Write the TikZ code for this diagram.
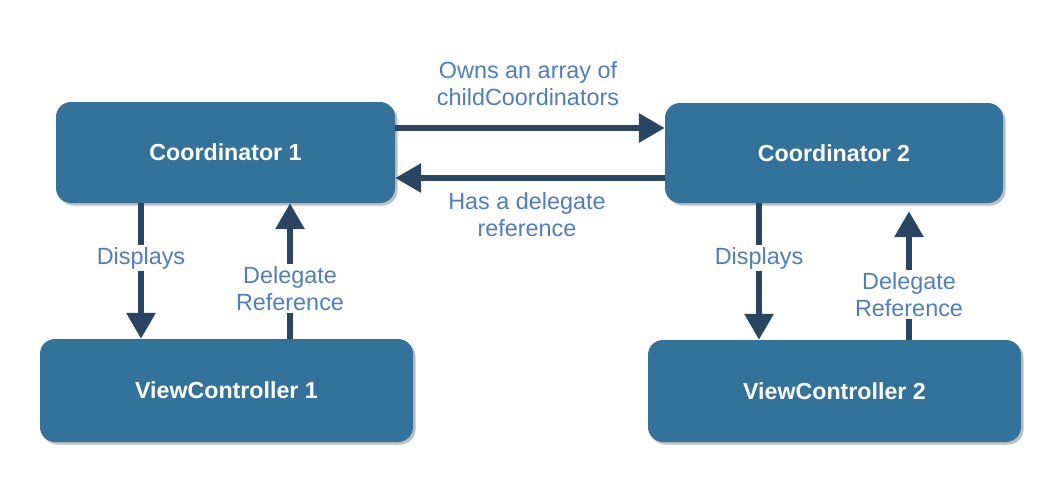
\documentclass[tikz,border=0pt]{standalone}
\usepackage{fontspec}
\setmainfont{Liberation Sans}
\usetikzlibrary{arrows.meta,shadows}
\definecolor{boxblue}{HTML}{32729B}
\definecolor{arrnavy}{HTML}{2A4561}
\definecolor{lblblue}{HTML}{4F7DC2}
\tikzset{
  box/.style={fill=boxblue, rounded corners=15pt, inner sep=0pt, text=white,
    font=\fontsize{23.2}{27}\selectfont\bfseries,
    drop shadow={shadow xshift=2.5pt, shadow yshift=-2.5pt, fill=black, opacity=0.25}},
  arr/.style={draw=arrnavy, line width=6pt, -{Triangle[width=28pt,length=26pt]}},
  lbl/.style={fill=white, text=lblblue, inner sep=2pt, align=center,
    font=\fontsize{23.4}{27}\selectfont}
}
\begin{document}
\begin{tikzpicture}[x=1pt,y=-1pt]
\useasboundingbox[fill=white] (0,0) rectangle (1064,482);
\node[box, minimum width=339pt, minimum height=101pt] (c1) at (225.5,152.5) {Coordinator 1};
\node[box, minimum width=338pt, minimum height=100pt] (c2) at (834,153) {Coordinator 2};
\node[box, minimum width=373pt, minimum height=103pt] (v1) at (226.5,390.5) {ViewController 1};
\node[box, minimum width=373pt, minimum height=102pt] (v2) at (834.5,391) {ViewController 2};
% horizontal arrows
\draw[arr] (c1.east |- 0,128) -- (c2.west |- 0,128);
\draw[arr] (c2.west |- 0,178) -- (c1.east |- 0,178);
\node[lbl, fill=none] (l1) at (528,83.5) {Owns an array of\\childCoordinators};
\node[lbl, fill=none] (l2) at (527,215) {Has a delegate\\reference};
% vertical arrows left
\draw[arr] (c1.south -| 141,0) -- (v1.north -| 141,0);
\draw[arr] (v1.north -| 290,0) -- (c1.south -| 290,0);
\node[lbl] (l3) at (141,258) {Displays};
\node[lbl] (l4) at (290,288.5) {Delegate\\Reference};
% vertical arrows right
\draw[arr] (c2.south -| 759,0) -- (v2.north -| 759,0);
\draw[arr, shorten >=8pt] (v2.north -| 909,0) -- (c2.south -| 909,0);
\node[lbl] (l5) at (759,258) {Displays};
\node[lbl] (l6) at (909,294.5) {Delegate\\Reference};
\end{tikzpicture}
\end{document}
